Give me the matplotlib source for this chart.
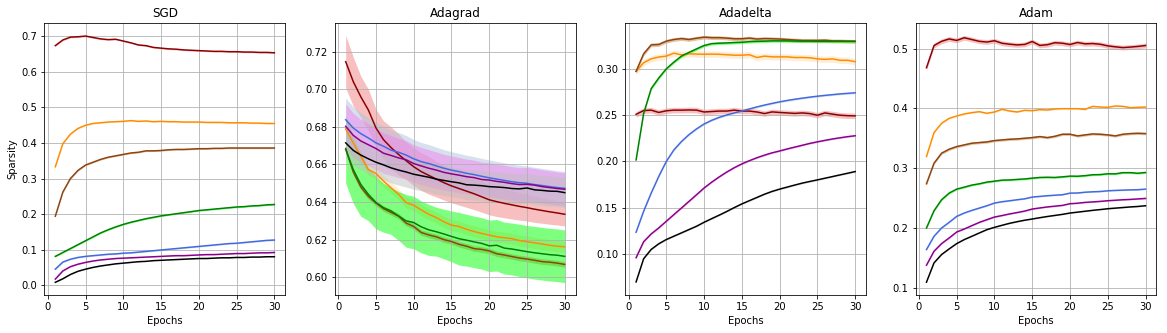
import numpy as np
import matplotlib
matplotlib.use("Agg")
import matplotlib.pyplot as plt

epochs = list(range(1, 31))
optimizers = ["SGD", "Adagrad", "Adadelta", "Adam"]
series_names = ["red", "orange", "brown", "green", "blue", "purple", "black"]
line_colors = ["darkred", "darkorange", "saddlebrown", "green", "royalblue", "darkmagenta", "black"]
fill_colors = ["lightcoral", "navajowhite", "peru", "lime", "lightsteelblue", "violet", "silver"]

# ---------------- SGD ----------------
sgd_red = [0.674, 0.690, 0.698, 0.699, 0.701, 0.697, 0.693, 0.691, 0.692, 0.687,
           0.682, 0.676, 0.674, 0.669, 0.667, 0.665, 0.664, 0.662, 0.661, 0.660,
           0.659, 0.658, 0.658, 0.657, 0.657, 0.656, 0.656, 0.655, 0.655, 0.654]
sgd_orange = [0.333, 0.398, 0.425, 0.441, 0.450, 0.455, 0.457, 0.459, 0.460, 0.461,
              0.463, 0.461, 0.462, 0.460, 0.461, 0.460, 0.460, 0.459, 0.459, 0.459,
              0.458, 0.458, 0.458, 0.457, 0.457, 0.457, 0.456, 0.456, 0.455, 0.455]
sgd_brown = [0.194, 0.262, 0.300, 0.323, 0.338, 0.346, 0.354, 0.360, 0.364, 0.368,
             0.372, 0.374, 0.378, 0.378, 0.379, 0.381, 0.382, 0.382, 0.383, 0.384,
             0.384, 0.385, 0.385, 0.386, 0.386, 0.386, 0.386, 0.386, 0.386, 0.386]
sgd_green = [0.081, 0.092, 0.103, 0.114, 0.125, 0.136, 0.147, 0.156, 0.164, 0.171,
             0.177, 0.182, 0.187, 0.191, 0.195, 0.198, 0.201, 0.204, 0.207, 0.210,
             0.212, 0.214, 0.216, 0.218, 0.220, 0.221, 0.223, 0.224, 0.226, 0.227]
sgd_blue = [0.045, 0.065, 0.073, 0.078, 0.081, 0.083, 0.085, 0.087, 0.088, 0.090,
            0.091, 0.093, 0.095, 0.097, 0.099, 0.101, 0.103, 0.105, 0.107, 0.109,
            0.111, 0.113, 0.115, 0.117, 0.118, 0.120, 0.122, 0.124, 0.126, 0.127]
sgd_purple = [0.017, 0.040, 0.052, 0.059, 0.064, 0.068, 0.071, 0.073, 0.075, 0.076,
              0.077, 0.078, 0.079, 0.080, 0.081, 0.082, 0.083, 0.083, 0.084, 0.085,
              0.086, 0.086, 0.087, 0.088, 0.089, 0.089, 0.090, 0.091, 0.091, 0.092]
sgd_black = [0.008, 0.018, 0.030, 0.039, 0.045, 0.050, 0.054, 0.057, 0.060, 0.062,
             0.064, 0.066, 0.067, 0.069, 0.070, 0.071, 0.072, 0.073, 0.074, 0.075,
             0.075, 0.076, 0.077, 0.077, 0.078, 0.078, 0.079, 0.079, 0.080, 0.080]
sgd_std = [0.002, 0.002, 0.002, 0.002, 0.002, 0.001, 0.001]

# ---------------- Adagrad ----------------
ada_red = [0.7147, 0.7041, 0.6960, 0.6890, 0.6795, 0.6732, 0.6690, 0.6653, 0.6620, 0.6588,
           0.6562, 0.6542, 0.6522, 0.6503, 0.6486, 0.6472, 0.6458, 0.6444, 0.6428, 0.6412,
           0.6402, 0.6393, 0.6385, 0.6377, 0.6370, 0.6362, 0.6355, 0.6348, 0.6342, 0.6335]
ada_orange = [0.6789, 0.6715, 0.6644, 0.6573, 0.6552, 0.6512, 0.6476, 0.6441, 0.6397, 0.6383,
              0.6358, 0.6335, 0.6317, 0.6295, 0.6277, 0.6270, 0.6255, 0.6243, 0.6233, 0.6224,
              0.6215, 0.6210, 0.6205, 0.6195, 0.6189, 0.6183, 0.6177, 0.6170, 0.6165, 0.6162]
ada_brown = [0.6685, 0.6560, 0.6480, 0.6430, 0.6395, 0.6365, 0.6345, 0.6325, 0.6288, 0.6270,
             0.6238, 0.6225, 0.6215, 0.6200, 0.6190, 0.6175, 0.6165, 0.6152, 0.6148, 0.6140,
             0.6125, 0.6118, 0.6110, 0.6102, 0.6097, 0.6090, 0.6083, 0.6080, 0.6075, 0.6068]
ada_green = [0.6680, 0.6573, 0.6494, 0.6441, 0.6397, 0.6370, 0.6353, 0.6326, 0.6300, 0.6291,
             0.6268, 0.6252, 0.6242, 0.6230, 0.6217, 0.6205, 0.6197, 0.6188, 0.6180, 0.6167,
             0.6170, 0.6155, 0.6150, 0.6143, 0.6136, 0.6130, 0.6125, 0.6120, 0.6117, 0.6111]
ada_blue = [0.6838, 0.6794, 0.6764, 0.6741, 0.6715, 0.6697, 0.6676, 0.6665, 0.6650, 0.6630,
            0.6615, 0.6605, 0.6592, 0.6580, 0.6570, 0.6562, 0.6553, 0.6546, 0.6537, 0.6529,
            0.6522, 0.6515, 0.6508, 0.6503, 0.6500, 0.6493, 0.6488, 0.6482, 0.6477, 0.6473]
ada_purple = [0.6803, 0.6755, 0.6725, 0.6705, 0.6685, 0.6660, 0.6648, 0.6635, 0.6625, 0.6605,
              0.6592, 0.6580, 0.6570, 0.6558, 0.6550, 0.6543, 0.6535, 0.6530, 0.6520, 0.6517,
              0.6510, 0.6505, 0.6498, 0.6493, 0.6494, 0.6490, 0.6482, 0.6477, 0.6472, 0.6468]
ada_black = [0.6715, 0.6675, 0.6650, 0.6630, 0.6612, 0.6598, 0.6582, 0.6570, 0.6560, 0.6548,
             0.6540, 0.6532, 0.6522, 0.6515, 0.6508, 0.6502, 0.6492, 0.6490, 0.6487, 0.6482,
             0.6480, 0.6477, 0.6472, 0.6470, 0.6475, 0.6465, 0.6462, 0.6458, 0.6457, 0.6450]
ada_red_std = [0.014, 0.013, 0.011, 0.011, 0.010, 0.010, 0.011, 0.011, 0.010, 0.010,
               0.010, 0.010, 0.0095, 0.0092, 0.009, 0.0088, 0.0086, 0.0084, 0.0082, 0.008,
               0.0079, 0.0077, 0.0075, 0.0073, 0.0071, 0.007, 0.0068, 0.0066, 0.0064, 0.0062]
ada_green_std = [0.018, 0.018, 0.017, 0.014, 0.014, 0.013, 0.0125, 0.013, 0.014, 0.014,
                 0.0138, 0.0136, 0.013, 0.0132, 0.0135, 0.014, 0.0138, 0.0137, 0.0137, 0.0137,
                 0.0137, 0.0138, 0.0138, 0.0139, 0.0139, 0.014, 0.014, 0.014, 0.014, 0.014]
ada_blue_std = [0.0115, 0.0113, 0.0111, 0.011, 0.0108, 0.0107, 0.0106, 0.0105, 0.0104, 0.0103,
                0.0102, 0.0101, 0.0100, 0.0099, 0.0098, 0.0097, 0.0096, 0.0096, 0.0095, 0.0095,
                0.0094, 0.0094, 0.0093, 0.0093, 0.0092, 0.0092, 0.0091, 0.0091, 0.0090, 0.0090]
ada_purple_std = [0.012, 0.0118, 0.0115, 0.0112, 0.011, 0.0108, 0.0106, 0.0104, 0.0102, 0.010,
                  0.0099, 0.0098, 0.0097, 0.0096, 0.0095, 0.0094, 0.0093, 0.0093, 0.0092, 0.0092,
                  0.0091, 0.0091, 0.0090, 0.0090, 0.0090, 0.0089, 0.0089, 0.0089, 0.0088, 0.0088]
ada_std_const = {"orange": 0.003, "brown": 0.0015, "black": 0.008}

# ---------------- Adadelta ----------------
add_red = [0.2510, 0.2550, 0.2555, 0.2530, 0.2548, 0.2555, 0.2555, 0.2557, 0.2555, 0.2535,
           0.2540, 0.2545, 0.2545, 0.2555, 0.2545, 0.2545, 0.2535, 0.2518, 0.2536, 0.2530,
           0.2525, 0.2520, 0.2525, 0.2518, 0.2500, 0.2525, 0.2512, 0.2500, 0.2495, 0.2493]
add_orange = [0.2975, 0.3068, 0.3111, 0.3130, 0.3140, 0.3172, 0.3154, 0.3165, 0.3162, 0.3160,
              0.3162, 0.3160, 0.3155, 0.3150, 0.3150, 0.3155, 0.3125, 0.3140, 0.3132, 0.3132,
              0.3132, 0.3125, 0.3125, 0.3122, 0.3110, 0.3105, 0.3110, 0.3095, 0.3095, 0.3080]
add_brown = [0.2975, 0.3165, 0.3262, 0.3266, 0.3302, 0.3320, 0.3330, 0.3320, 0.3334, 0.3345,
             0.3340, 0.3340, 0.3335, 0.3328, 0.3328, 0.3335, 0.3325, 0.3330, 0.3328, 0.3325,
             0.3320, 0.3315, 0.3310, 0.3310, 0.3310, 0.3312, 0.3305, 0.3305, 0.3302, 0.3300]
add_green = [0.2016, 0.2519, 0.2788, 0.2903, 0.3003, 0.3075, 0.3140, 0.3180, 0.3218, 0.3255,
             0.3275, 0.3280, 0.3283, 0.3287, 0.3290, 0.3297, 0.3300, 0.3302, 0.3305, 0.3305,
             0.3305, 0.3303, 0.3302, 0.3302, 0.3300, 0.3300, 0.3300, 0.3300, 0.3300, 0.3300]
add_blue = [0.1233, 0.1460, 0.1657, 0.1837, 0.2000, 0.2124, 0.2215, 0.2290, 0.2352, 0.2405,
            0.2445, 0.2477, 0.2503, 0.2525, 0.2545, 0.2568, 0.2590, 0.2610, 0.2628, 0.2645,
            0.2660, 0.2673, 0.2685, 0.2696, 0.2706, 0.2715, 0.2723, 0.2731, 0.2737, 0.2743]
add_purple = [0.0957, 0.1130, 0.1215, 0.1280, 0.1352, 0.1424, 0.1495, 0.1567, 0.1639, 0.1712,
              0.1775, 0.1832, 0.1885, 0.1932, 0.1973, 0.2008, 0.2040, 0.2068, 0.2093, 0.2113,
              0.2135, 0.2155, 0.2175, 0.2195, 0.2212, 0.2228, 0.2243, 0.2256, 0.2268, 0.2278]
add_black = [0.0695, 0.0946, 0.1047, 0.1108, 0.1154, 0.1190, 0.1226, 0.1262, 0.1298, 0.1341,
             0.1380, 0.1418, 0.1458, 0.1500, 0.1540, 0.1575, 0.1610, 0.1645, 0.1675, 0.1700,
             0.1722, 0.1744, 0.1765, 0.1783, 0.1800, 0.1818, 0.1836, 0.1854, 0.1872, 0.1890]
add_std = [0.003, 0.0035, 0.002, 0.0015, 0.001, 0.0008, 0.0008]

# ---------------- Adam ----------------
adam_red = [0.4678, 0.5050, 0.5120, 0.5160, 0.5135, 0.5180, 0.5150, 0.5120, 0.5108, 0.5130,
            0.5088, 0.5072, 0.5060, 0.5068, 0.5117, 0.5052, 0.5063, 0.5097, 0.5088, 0.5067,
            0.5100, 0.5078, 0.5083, 0.5071, 0.5044, 0.5028, 0.5015, 0.5024, 0.5035, 0.5050]
adam_orange = [0.3194, 0.3594, 0.3750, 0.3833, 0.3872, 0.3906, 0.3928, 0.3944, 0.3917, 0.3939,
               0.3983, 0.3956, 0.3939, 0.3967, 0.3961, 0.3978, 0.3972, 0.3989, 0.3994, 0.3994,
               0.3994, 0.3983, 0.4033, 0.4022, 0.4017, 0.4039, 0.4033, 0.4011, 0.4017, 0.4022]
adam_brown = [0.2739, 0.3083, 0.3250, 0.3317, 0.3361, 0.3389, 0.3417, 0.3428, 0.3439, 0.3461,
              0.3472, 0.3483, 0.3489, 0.3500, 0.3511, 0.3528, 0.3511, 0.3533, 0.3567, 0.3567,
              0.3539, 0.3556, 0.3572, 0.3567, 0.3556, 0.3539, 0.3567, 0.3578, 0.3583, 0.3578]
adam_green = [0.2000, 0.2289, 0.2472, 0.2583, 0.2650, 0.2683, 0.2717, 0.2739, 0.2767, 0.2783,
              0.2800, 0.2803, 0.2812, 0.2820, 0.2833, 0.2845, 0.2848, 0.2845, 0.2855, 0.2867,
              0.2865, 0.2875, 0.2890, 0.2893, 0.2906, 0.2905, 0.2925, 0.2925, 0.2915, 0.2928]
adam_blue = [0.1639, 0.1861, 0.2000, 0.2094, 0.2194, 0.2250, 0.2294, 0.2333, 0.2372, 0.2417,
             0.2439, 0.2455, 0.2472, 0.2488, 0.2517, 0.2528, 0.2539, 0.2548, 0.2556, 0.2583,
             0.2585, 0.2598, 0.2605, 0.2610, 0.2622, 0.2628, 0.2633, 0.2637, 0.2640, 0.2650]
adam_purple = [0.1378, 0.1611, 0.1739, 0.1833, 0.1933, 0.1983, 0.2039, 0.2094, 0.2139, 0.2183,
               0.2208, 0.2235, 0.2258, 0.2283, 0.2317, 0.2335, 0.2352, 0.2365, 0.2378, 0.2406,
               0.2414, 0.2428, 0.2436, 0.2445, 0.2456, 0.2464, 0.2472, 0.2478, 0.2486, 0.2494]
adam_black = [0.1094, 0.1417, 0.1556, 0.1650, 0.1739, 0.1806, 0.1861, 0.1917, 0.1972, 0.2011,
              0.2045, 0.2078, 0.2105, 0.2130, 0.2150, 0.2172, 0.2192, 0.2210, 0.2228, 0.2250,
              0.2265, 0.2280, 0.2295, 0.2308, 0.2322, 0.2332, 0.2342, 0.2352, 0.2360, 0.2372]
adam_std = [0.004, 0.0015, 0.002, 0.0015, 0.001, 0.001, 0.0008]

panels = {
    "SGD": ([sgd_red, sgd_orange, sgd_brown, sgd_green, sgd_blue, sgd_purple, sgd_black],
            sgd_std),
    "Adagrad": ([ada_red, ada_orange, ada_brown, ada_green, ada_blue, ada_purple, ada_black],
                [ada_red_std, ada_std_const["orange"], ada_std_const["brown"], ada_green_std,
                 ada_blue_std, ada_purple_std, ada_std_const["black"]]),
    "Adadelta": ([add_red, add_orange, add_brown, add_green, add_blue, add_purple, add_black],
                 add_std),
    "Adam": ([adam_red, adam_orange, adam_brown, adam_green, adam_blue, adam_purple, adam_black],
             adam_std),
}

fig, axes = plt.subplots(1, 4, figsize=(1167 / 72, 333 / 72), dpi=72)
fig.subplots_adjust(left=0.038, right=0.991, bottom=0.114, top=0.931, wspace=0.205)

x = np.array(epochs)
for ax, name in zip(axes, optimizers):
    means, stds = panels[name]
    for m, s, fc in zip(means, stds, fill_colors):
        m = np.array(m)
        s = np.array(s) * np.ones_like(m)
        ax.fill_between(x, m - s, m + s, color=fc, alpha=0.5, linewidth=0)
    for m, lc in zip(means, line_colors):
        ax.plot(x, m, color=lc, linewidth=1.5)
    ax.set_title(name)
    ax.set_xlabel("Epochs")
    ax.grid(True)
    ax.set_xticks([0, 5, 10, 15, 20, 25, 30])

axes[0].set_ylabel("Sparsity")

fig.savefig("out.png", dpi=72)
